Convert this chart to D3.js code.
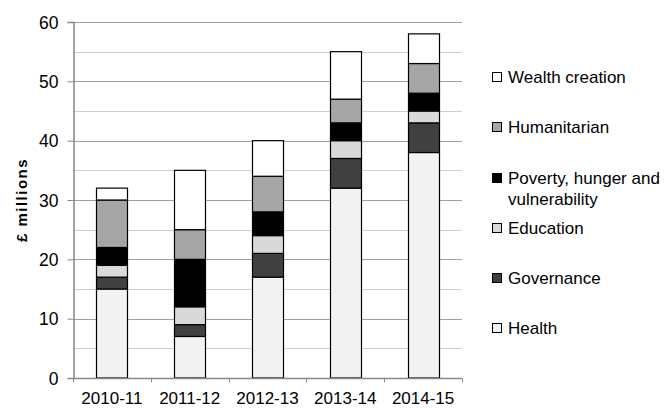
<!DOCTYPE html>
<html><head><meta charset="utf-8">
<script src="https://cdn.jsdelivr.net/npm/d3@7"></script>
<style>body{margin:0;background:#fff}svg{display:block;font-family:"Liberation Sans",Arial,sans-serif}</style>
</head><body><svg id="c" width="670" height="408"></svg>
<script>
const categories = ["2010-11","2011-12","2012-13","2013-14","2014-15"];
const seriesNames = ["Health","Governance","Education","Poverty, hunger and vulnerability","Humanitarian","Wealth creation"];
const health = [15,7,17,32,38];
const governance = [2,2,4,5,5];
const education = [2,3,3,3,2];
const poverty = [3,8,4,3,3];
const humanitarian = [8,5,6,4,5];
const wealth = [2,10,6,8,5];
const yTicks = [0,10,20,30,40,50,60];
const colors = ["#f2f2f2","#404040","#d9d9d9","#000000","#a6a6a6","#ffffff"];

(function(){
const seriesVals = [health,governance,education,poverty,humanitarian,wealth];
const rows = categories.map((c,i)=>{const r={cat:c}; seriesNames.forEach((s,j)=>r[s]=seriesVals[j][i]); return r;});
const stack = d3.stack().keys(seriesNames)(rows);

const svg = d3.select("#c");
const pL=73,pR=462,pT=22,pB=378;
const x = d3.scaleBand().domain(categories).range([pL,pR]).paddingInner(0.6).paddingOuter(0.3);
const xb = d3.scaleBand().domain(categories).range([pL,pR]);
const y = d3.scaleLinear().domain([0,60]).range([pB,pT]);

const minor = d3.range(5,60,10);
svg.append("g").selectAll("line").data(minor).join("line")
  .attr("x1",pL).attr("x2",pR).attr("y1",d=>Math.round(y(d))+0.5).attr("y2",d=>Math.round(y(d))+0.5)
  .attr("stroke","#d0d0d0").attr("stroke-width",1);
svg.append("g").selectAll("line").data(yTicks.filter(d=>d>0)).join("line")
  .attr("x1",pL).attr("x2",pR).attr("y1",d=>Math.round(y(d))+0.5).attr("y2",d=>Math.round(y(d))+0.5)
  .attr("stroke","#a0a0a0").attr("stroke-width",1);

svg.append("g").selectAll("g").data(stack).join("g")
  .attr("fill",(d,i)=>colors[i])
  .selectAll("rect").data(d=>d).join("rect")
  .attr("x",d=>Math.round(x(d.data.cat))+0.5)
  .attr("width",Math.round(x.bandwidth()))
  .attr("y",d=>y(d[1]))
  .attr("height",d=>y(d[0])-y(d[1]))
  .attr("stroke","#000").attr("stroke-width",1.2);

const yAxis = d3.axisLeft(y).tickValues(yTicks).tickSize(6).tickPadding(9);
const gy = svg.append("g").attr("transform",`translate(${pL+0.5},0)`).call(yAxis);
gy.select(".domain").attr("stroke","#888").attr("stroke-width",1.5);
gy.selectAll(".tick line").attr("stroke","#888");
gy.selectAll("text").attr("font-size",17.5).attr("fill","#000").attr("dy","0.35em")
  .attr("font-family","Liberation Sans, Arial, sans-serif");

const gx = svg.append("g").attr("transform",`translate(0,${pB+0.5})`);
gx.append("line").attr("x1",pL).attr("x2",pR).attr("stroke","#888").attr("stroke-width",1.5);
gx.selectAll(".tk").data(categories.concat(["end"])).join("line")
  .attr("x1",(d,i)=>Math.round(pL+i*xb.bandwidth())+0.5).attr("x2",(d,i)=>Math.round(pL+i*xb.bandwidth())+0.5)
  .attr("y1",0).attr("y2",4).attr("stroke","#888");
gx.selectAll("text").data(categories).join("text")
  .attr("x",d=>xb(d)+xb.bandwidth()/2).attr("y",25)
  .attr("text-anchor","middle").attr("font-size",17).attr("fill","#000").text(d=>d);

svg.append("text").attr("transform","translate(27,200) rotate(-90)")
  .attr("text-anchor","middle").attr("font-size",15).attr("font-weight","bold")
  .attr("letter-spacing","1.5").text("£ millions");

const legendItems = seriesNames.map((s,i)=>({name:s,color:colors[i]})).reverse();
const legY = [77,127,178,228,278,328];
const lg = svg.append("g");
legendItems.forEach((d,i)=>{
  const g = lg.append("g").attr("transform",`translate(492,${legY[i]})`);
  g.append("rect").attr("x",0.5).attr("y",-4.5).attr("width",9).attr("height",9)
    .attr("fill",d.color).attr("stroke","#000").attr("stroke-width",1);
  const t = g.append("text").attr("x",16).attr("y",5.5).attr("font-size",17).attr("fill","#000");
  if (d.name.startsWith("Poverty")) {
    t.append("tspan").attr("x",16).text("Poverty, hunger and");
    t.append("tspan").attr("x",16).attr("dy",21).text("vulnerability");
  } else t.text(d.name);
});
})();
</script></body></html>
